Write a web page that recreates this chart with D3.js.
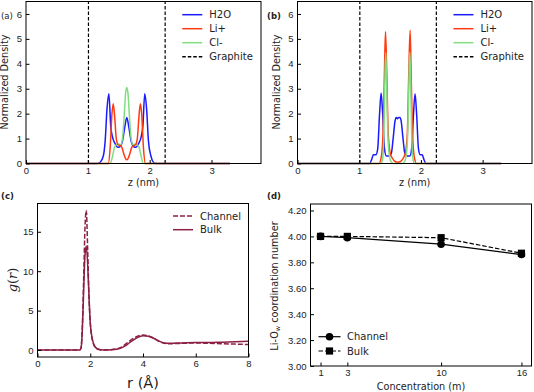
<!DOCTYPE html>
<html>
<head>
<meta charset="utf-8">
<script src="https://cdn.jsdelivr.net/npm/d3@7"></script>
<style>
  body { margin: 0; background: #fff; }
  svg { display: block; font-family: "DejaVu Sans", sans-serif; }
  .tick text { font-size: 9.5px; fill: #222; }
</style>
</head>
<body>
<svg id="chart" width="534" height="392"></svg>
<script>
// ---- panel (a): 1 m channel density profiles
const zA_h2o = [0, 1.15, 1.2, 1.25, 1.28, 1.31, 1.34, 1.37, 1.40, 1.44, 1.48, 1.52, 1.56, 1.60, 1.63, 1.66, 1.70, 1.74, 1.78, 1.82, 1.86, 1.89, 1.92, 1.95, 1.98, 2.02, 2.06, 2.1, 3.3];
const vA_h2o = [0, 0, 0.05, 0.3, 0.9, 2.2, 2.8, 1.5, 1.05, 0.8, 0.65, 0.68, 0.9, 1.5, 1.85, 1.5, 0.9, 0.68, 0.65, 0.8, 1.05, 1.5, 2.8, 2.2, 0.9, 0.3, 0.05, 0, 0];
const zA_li = [0, 1.33, 1.36, 1.39, 1.41, 1.43, 1.46, 1.49, 1.52, 1.55, 1.58, 1.61, 1.63, 1.65, 1.68, 1.71, 1.74, 1.77, 1.80, 1.83, 1.85, 1.87, 1.90, 1.93, 3.3];
const vA_li = [0, 0, 0.6, 2.0, 2.4, 2.0, 1.0, 0.75, 0.72, 0.65, 0.4, 0.2, 0.15, 0.2, 0.4, 0.65, 0.72, 0.75, 1.0, 2.0, 2.4, 2.0, 0.6, 0, 0];
const zA_cl = [0, 1.36, 1.40, 1.43, 1.46, 1.50, 1.53, 1.56, 1.59, 1.61, 1.63, 1.65, 1.67, 1.70, 1.73, 1.76, 1.80, 1.83, 1.86, 1.90, 3.3];
const vA_cl = [0, 0, 0.3, 0.65, 0.75, 0.78, 0.75, 1.0, 2.0, 2.8, 3.05, 2.8, 2.0, 1.0, 0.75, 0.78, 0.75, 0.65, 0.3, 0, 0];

// ---- panel (b): 16 m channel density profiles
const zB_h2o = [0, 1.17, 1.20, 1.23, 1.27, 1.30, 1.33, 1.355, 1.38, 1.41, 1.44, 1.48, 1.52, 1.55, 1.58, 1.60, 1.62, 1.64, 1.66, 1.68, 1.71, 1.74, 1.78, 1.82, 1.85, 1.88, 1.905, 1.93, 1.96, 1.99, 2.02, 2.05, 2.08, 3.3];
const vB_h2o = [0, 0, 0.15, 0.35, 0.35, 0.6, 2.0, 2.83, 2.0, 0.6, 0.3, 0.3, 0.4, 1.0, 1.7, 1.85, 1.8, 1.85, 1.85, 1.7, 1.0, 0.4, 0.3, 0.3, 0.6, 2.0, 2.8, 2.0, 0.6, 0.35, 0.35, 0.15, 0, 0];
const zB_li = [0, 1.32, 1.36, 1.39, 1.41, 1.426, 1.445, 1.47, 1.50, 1.54, 1.58, 1.625, 1.67, 1.71, 1.75, 1.78, 1.805, 1.825, 1.84, 1.86, 1.89, 1.93, 3.3];
const vB_li = [0, 0, 0.3, 1.5, 3.8, 5.3, 3.8, 1.2, 0.45, 0.2, 0.08, 0.05, 0.08, 0.2, 0.45, 1.2, 3.8, 5.35, 3.8, 1.5, 0.3, 0, 0];
const zB_cl = [0, 1.35, 1.38, 1.40, 1.415, 1.43, 1.445, 1.46, 1.48, 1.51, 1.55, 1.70, 1.74, 1.77, 1.79, 1.805, 1.82, 1.835, 1.85, 1.87, 1.90, 3.3];
const vB_cl = [0, 0, 0.2, 1.2, 3.2, 4.45, 3.2, 1.5, 0.5, 0.1, 0, 0, 0.1, 0.5, 1.5, 3.2, 4.45, 3.2, 1.2, 0.2, 0, 0];

const graphiteWalls = [1.01, 2.25];
const densityTicksX = [0, 1, 2, 3];
const densityTicksY = [0, 1, 2, 3, 4, 5, 6];

// ---- panel (c): Li-O g(r)
const rValues = [0, 1.6, 1.65, 1.7, 1.75, 1.8, 1.85, 1.9, 1.95, 2.0, 2.1, 2.2, 2.3, 2.5, 2.8, 3.0, 3.2, 3.4, 3.6, 3.8, 4.0, 4.2, 4.4, 4.6, 4.8, 5.0, 5.5, 6.0, 6.5, 7.0, 7.5, 8.0];
const gChannel = [0, 0, 0.3, 3, 9, 15.5, 17.7, 13, 7, 3.5, 1, 0.3, 0.1, 0, 0.05, 0.15, 0.4, 0.9, 1.4, 1.75, 1.9, 1.8, 1.5, 1.1, 0.85, 0.8, 0.85, 0.9, 0.85, 0.8, 0.75, 0.7];
const gBulk = [0, 0, 0.2, 2.5, 7.5, 12, 13.2, 11, 7, 3.5, 1.1, 0.35, 0.1, 0, 0.03, 0.1, 0.3, 0.7, 1.2, 1.6, 1.8, 1.75, 1.5, 1.15, 0.9, 0.85, 0.9, 0.95, 0.95, 1.0, 1.05, 1.1];

// ---- panel (d): coordination number vs concentration
const concentrations = [1, 3, 10, 16];
const cnChannel = [4.00, 3.99, 3.94, 3.86];
const cnChannelErr = [0.01, 0.025, 0.01, 0.015];
const cnBulk = [4.00, 4.00, 3.99, 3.87];
const cnBulkErr = [0.01, 0.01, 0.015, 0.01];
const cnTicksY = [3.0, 3.2, 3.4, 3.6, 3.8, 4.0, 4.2];

const colH2O = "#1a1aff", colLi = "#ff3a10", colCl = "#80dd80", colGr = "#8c1f45";

const svg = d3.select("#chart");

function frame(g, x0, x1, y0, y1) {
  g.append("rect").attr("x", x0).attr("y", y0)
    .attr("width", x1 - x0).attr("height", y1 - y0)
    .attr("fill", "none").attr("stroke", "#000").attr("stroke-width", 1);
}

function axes(g, x, y, xt, yt, yfmt) {
  const [x0, x1] = x.range(), [y1, y0] = y.range();
  g.append("g").attr("transform", `translate(0,${y1})`)
    .call(d3.axisBottom(x).tickValues(xt).tickSizeInner(-3.5).tickSizeOuter(0).tickPadding(3.5).tickFormat(d3.format("d")))
    .call(a => a.select(".domain").remove());
  g.append("g").attr("transform", `translate(${x0},0)`)
    .call(d3.axisLeft(y).tickValues(yt).tickSizeInner(-3.5).tickSizeOuter(0).tickPadding(4).tickFormat(yfmt || d3.format("d")))
    .call(a => a.select(".domain").remove());
  frame(g, x0, x1, y0, y1);
}

function densityPanel(x0, x1, label, labelX, labelWeight, series) {
  const g = svg.append("g");
  const x = d3.scaleLinear().domain([0, 3.8]).range([x0, x1]);
  const y = d3.scaleLinear().domain([0, 6.5]).range([163.5, 1.5]);
  const line = d3.line().x(d => x(d[0])).y(d => y(d[1])).curve(d3.curveMonotoneX);

  series.forEach(s => {
    g.append("path").datum(d3.zip(s.z, s.v))
      .attr("d", line).attr("fill", "none")
      .attr("stroke", s.color).attr("stroke-width", 1.5);
  });
  graphiteWalls.forEach(w => {
    g.append("line").attr("x1", x(w)).attr("x2", x(w))
      .attr("y1", y.range()[0]).attr("y2", y.range()[1])
      .attr("stroke", "#000").attr("stroke-width", 1.2).attr("stroke-dasharray", "3.5,2");
  });
  axes(g, x, y, densityTicksX, densityTicksY);

  // legend
  const names = ["H2O", "Li+", "Cl-", "Graphite"];
  const cols = [colH2O, colLi, colCl, "#000"];
  const lx = x0 + (x1 - x0) * 0.665;
  names.forEach((n, i) => {
    const ly = 14.7 + i * 14;
    g.append("line").attr("x1", lx).attr("x2", lx + 20).attr("y1", ly).attr("y2", ly)
      .attr("stroke", cols[i]).attr("stroke-width", 1.5)
      .attr("stroke-dasharray", i === 3 ? "3.5,2" : null);
    g.append("text").attr("x", lx + 27).attr("y", ly + 3.5).attr("font-size", 10).attr("fill", "#222").text(n);
  });

  g.append("text").attr("transform", `translate(${x0 - 18},${82}) rotate(-90)`)
    .attr("text-anchor", "middle").attr("font-size", 9.7).attr("fill", "#222").text("Normalized Density");
  g.append("text").attr("x", (x0 + x1) / 2).attr("y", 185.5)
    .attr("text-anchor", "middle").attr("font-size", 9.7).attr("fill", "#222").text("z (nm)");
  g.append("text").attr("x", labelX).attr("y", 19).attr("font-size", 8.5)
    .attr("font-weight", labelWeight).attr("fill", "#222").text(label);
}

densityPanel(26, 261, "(a)", 1, "normal", [
  { z: zA_h2o, v: vA_h2o, color: colH2O },
  { z: zA_cl, v: vA_cl, color: colCl },
  { z: zA_li, v: vA_li, color: colLi }
]);
densityPanel(297.5, 532, "(b)", 267, "bold", [
  { z: zB_h2o, v: vB_h2o, color: colH2O },
  { z: zB_li, v: vB_li, color: colLi },
  { z: zB_cl, v: vB_cl, color: colCl }
]);

// ---- panel (c)
{
  const g = svg.append("g");
  const x = d3.scaleLinear().domain([0, 8]).range([37.5, 248.5]);
  const y = d3.scaleLinear().domain([-0.885, 18.585]).range([357, 203.5]);
  const line = d3.line().x(d => x(d[0])).y(d => y(d[1])).curve(d3.curveMonotoneX);
  g.append("path").datum(d3.zip(rValues, gBulk)).attr("d", line)
    .attr("fill", "none").attr("stroke", colGr).attr("stroke-width", 1.5);
  g.append("path").datum(d3.zip(rValues, gChannel)).attr("d", line)
    .attr("fill", "none").attr("stroke", colGr).attr("stroke-width", 1.5).attr("stroke-dasharray", "5,2");
  axes(g, x, y, [0, 2, 4, 6, 8], [0, 5, 10, 15]);

  [["Channel", "5,2"], ["Bulk", null]].forEach((d, i) => {
    const ly = 216 + i * 13.7;
    g.append("line").attr("x1", 173).attr("x2", 193).attr("y1", ly).attr("y2", ly)
      .attr("stroke", colGr).attr("stroke-width", 1.5).attr("stroke-dasharray", d[1]);
    g.append("text").attr("x", 200).attr("y", ly + 3.5).attr("font-size", 10).attr("fill", "#222").text(d[0]);
  });

  const gl = g.append("text").attr("transform", "translate(17,280) rotate(-90)")
    .attr("text-anchor", "middle").attr("font-size", 13).attr("font-family", "DejaVu Serif").attr("fill", "#222");
  gl.append("tspan").attr("font-style", "italic").text("g");
  gl.append("tspan").text("(");
  gl.append("tspan").attr("font-style", "italic").text("r");
  gl.append("tspan").text(")");
  g.append("text").attr("x", 143).attr("y", 388).attr("text-anchor", "middle")
    .attr("font-size", 14.5).attr("fill", "#222").text("r (Å)");
  g.append("text").attr("x", 1).attr("y", 199).attr("font-size", 8.5)
    .attr("font-weight", "bold").attr("fill", "#222").text("(c)");
}

// ---- panel (d)
{
  const g = svg.append("g");
  const x = d3.scaleLinear().domain([0.25, 16.75]).range([310.5, 531.5]);
  const y = d3.scaleLinear().domain([3.0, 4.25]).range([366, 204]);
  const line = d3.line().x((d, i) => x(concentrations[i])).y(d => y(d));

  g.append("path").datum(cnBulk).attr("d", line).attr("fill", "none")
    .attr("stroke", "#000").attr("stroke-width", 1.2).attr("stroke-dasharray", "4.5,2");
  g.append("path").datum(cnChannel).attr("d", line).attr("fill", "none")
    .attr("stroke", "#000").attr("stroke-width", 1.2);

  [[cnChannel, cnChannelErr], [cnBulk, cnBulkErr]].forEach(([v, e]) => {
    g.selectAll(null).data(v).enter().append("line")
      .attr("x1", (d, i) => x(concentrations[i])).attr("x2", (d, i) => x(concentrations[i]))
      .attr("y1", (d, i) => y(d - e[i])).attr("y2", (d, i) => y(d + e[i]))
      .attr("stroke", "#000").attr("stroke-width", 1.2);
  });
  g.selectAll(null).data(cnChannel).enter().append("circle")
    .attr("cx", (d, i) => x(concentrations[i])).attr("cy", d => y(d)).attr("r", 3.8).attr("fill", "#000");
  g.selectAll(null).data(cnBulk).enter().append("rect")
    .attr("x", (d, i) => x(concentrations[i]) - 3.6).attr("y", d => y(d) - 3.6)
    .attr("width", 7.2).attr("height", 7.2).attr("fill", "#000");

  axes(g, x, y, concentrations, cnTicksY, d3.format(".2f"));

  // legend
  const lx = 318.5;
  g.append("line").attr("x1", lx).attr("x2", lx + 22).attr("y1", 336.7).attr("y2", 336.7)
    .attr("stroke", "#000").attr("stroke-width", 1.2);
  g.append("circle").attr("cx", lx + 11).attr("cy", 336.7).attr("r", 3.8).attr("fill", "#000");
  g.append("line").attr("x1", lx).attr("x2", lx + 22).attr("y1", 351).attr("y2", 351)
    .attr("stroke", "#000").attr("stroke-width", 1.2).attr("stroke-dasharray", "4.5,2");
  g.append("rect").attr("x", lx + 11 - 3.6).attr("y", 351 - 3.6).attr("width", 7.2).attr("height", 7.2).attr("fill", "#000");
  g.append("text").attr("x", 347).attr("y", 340.3).attr("font-size", 10).attr("fill", "#222").text("Channel");
  g.append("text").attr("x", 347).attr("y", 354.6).attr("font-size", 10).attr("fill", "#222").text("Bulk");

  const yl = g.append("text").attr("transform", "translate(278,286) rotate(-90)")
    .attr("text-anchor", "middle").attr("font-size", 9.7).attr("fill", "#222");
  yl.append("tspan").text("Li-O");
  yl.append("tspan").attr("font-size", 6.5).attr("dy", 2).text("w");
  yl.append("tspan").attr("dy", -2).text(" coordination number");
  g.append("text").attr("x", 421).attr("y", 390).attr("text-anchor", "middle")
    .attr("font-size", 9.7).attr("fill", "#222").text("Concentration (m)");
  g.append("text").attr("x", 267).attr("y", 199).attr("font-size", 8.5)
    .attr("font-weight", "bold").attr("fill", "#222").text("(d)");
}
</script>
</body>
</html>
